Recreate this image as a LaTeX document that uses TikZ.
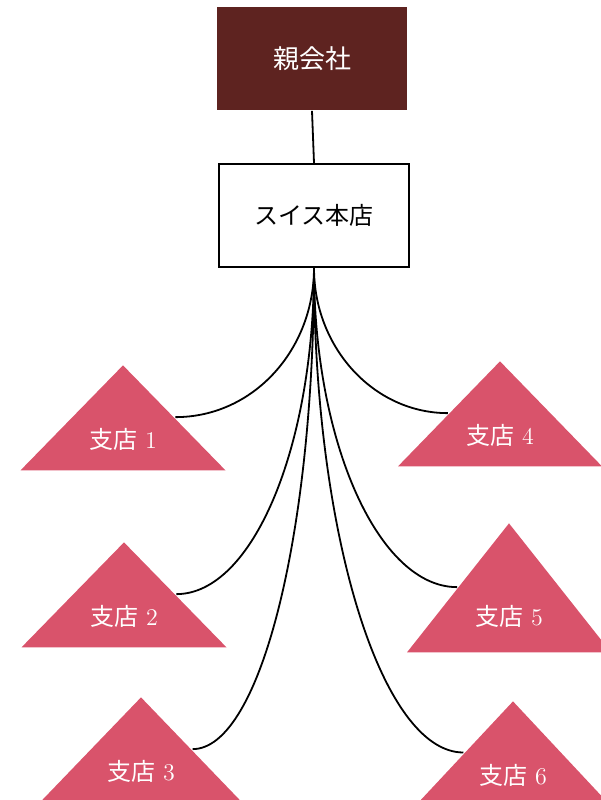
\documentclass[tikz,border=0pt]{standalone}
\usepackage{fontspec}
\newfontfamily\jp{Noto Sans CJK JP}
\usetikzlibrary{shapes.geometric,positioning}
\definecolor{oyaBrown}{RGB}{94,35,32}
\definecolor{shitenRed}{RGB}{217,83,107}

\begin{document}
\begin{tikzpicture}[x=0.5pt, y=-0.5pt,
line width=0.9pt,
node distance=26pt and 0pt, % y and x
oya/.style={rectangle, minimum width=95pt, minimum height=51.5pt, text centered, fill=oyaBrown, text=white, font=\jp\fontsize{13}{15}\selectfont},
honsha/.style={rectangle, minimum width=95pt, minimum height=51.5pt, text centered, draw=black, line width=1pt, fill=white, font=\jp\fontsize{12}{14}\selectfont},
shiten/.style={isosceles triangle, shape border rotate=90, isosceles triangle stretches, inner sep=0pt, minimum width=102.5pt, minimum height=52.5pt, fill=shitenRed, text=white, anchor=apex, font=\fontsize{12}{14}\selectfont},
]
  \useasboundingbox (0,0) rectangle (601,800);
  \node (oya) [oya] at (312,58.5) {親会社};
  \node (honsha) [honsha, below=26pt of oya, xshift=1pt] {スイス本店};
  \node (shiten1) [shiten] at (123,363) {{\jp 支店} 1};
  \node (shiten2) [shiten] at (124,540) {{\jp 支店} 2};
  \node (shiten3) [shiten, minimum width=101pt] at (141,695) {{\jp 支店} 3};
  \node (shiten4) [shiten, minimum width=102pt] at (500,359) {{\jp 支店} 4};
  \node (shiten5) [shiten, minimum width=102pt, minimum height=64.5pt] at (509,521) {{\jp 支店} 5};
  \node (shiten6) [shiten, minimum width=97pt, minimum height=50.5pt] at (513,699) {{\jp 支店} 6};

  \draw (oya.south) -- (honsha.north);
  \path[draw]
    (honsha.south)
        edge[out=-90, in=0, out distance=41pt, in distance=39pt] (shiten1.right side)
        edge[out=-90, in=0, out distance=90pt, in distance=38pt] (shiten2.right side)
        edge[out=-90, in=0, out distance=132pt, in distance=34pt] (shiten3.right side)
        edge[out=-90, in=180, out distance=40pt, in distance=37pt] (shiten4.left side)
        edge[out=-90, in=180, out distance=88pt, in distance=39pt] (shiten5.left side)
        edge[out=-90, in=180, out distance=133pt, in distance=41pt] (shiten6.left side)
    ;
\end{tikzpicture}
\end{document}
